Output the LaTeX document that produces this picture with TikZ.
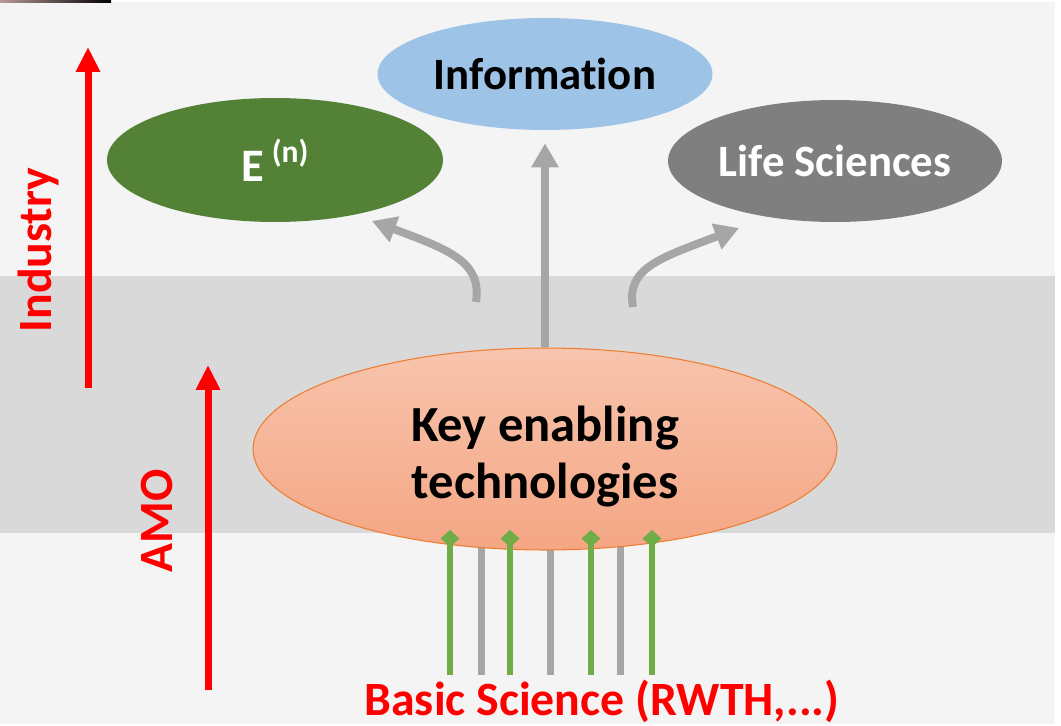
\documentclass[tikz,border=0pt]{standalone}
\usepackage{fontspec}
\setmainfont{Carlito}[Ligatures=CommonOff]
\usetikzlibrary{arrows.meta,shapes.geometric}
\definecolor{bg}{HTML}{F4F4F4}
\definecolor{band}{HTML}{D9D9D9}
\definecolor{engreen}{HTML}{538135}
\definecolor{infoblue}{HTML}{9DC3E6}
\definecolor{lifegray}{HTML}{7F7F7F}
\definecolor{arrgray}{HTML}{A6A6A6}
\definecolor{lgreen}{HTML}{70AD47}
\definecolor{keytop}{HTML}{F8C4AD}
\definecolor{keybot}{HTML}{F4A684}
\definecolor{keyborder}{HTML}{ED7D31}
\tikzset{
  bigtext/.style={font=\fontsize{25.5}{32}\selectfont\bfseries, align=center},
  keytext/.style={font=\fontsize{28.8}{32.5}\selectfont\bfseries, align=center},
  redtext/.style={font=\fontsize{27.2}{32}\selectfont\bfseries, text=red},
  blob/.style={ellipse, inner sep=0pt, bigtext},
  redarrow/.style={draw=red, line width=0.14cm, -{Triangle[width=0.46cm,length=0.5cm]}},
  grayarrow/.style={draw=arrgray, line width=0.16cm, -{Triangle[width=0.52cm,length=0.48cm]}},
  grayline/.style={draw=arrgray, line width=0.14cm},
  greenline/.style={draw=lgreen, line width=0.12cm, -{Diamond[width=0.38cm,length=0.34cm]}},
}
\begin{document}
\begin{tikzpicture}[x=0.02cm,y=-0.02cm]
\useasboundingbox (0,0) rectangle (1061,726);
\fill[white] (0,0) rectangle (1061,726);
\fill[bg] (0,2) rectangle (1055,724);
\fill[band] (0,276) rectangle (1055,533);
\shade[left color=black!70!red!40, right color=black] (0,0) rectangle (111,3);

% ellipses top
\node[blob, fill=engreen, text=white, minimum width=6.72cm, minimum height=2.48cm] (en) at (275,160) {{\fontsize{26.5}{32}\selectfont E}\,\raisebox{0.42em}{\fontsize{18}{20}\selectfont (n)}};
\node[blob, fill=infoblue, text=black, minimum width=6.70cm, minimum height=2.24cm] (info) at (545,74) {Information};
\node[blob, fill=lifegray, text=white, minimum width=6.68cm, minimum height=2.44cm] (life) at (835,161) {Life Sciences};

% gray bottom lines (under key ellipse)
\foreach \i/\x in {1/481,2/550,3/620} {
  \coordinate (gb\i) at (\x,675);
  \coordinate (gt\i) at (\x,540);
  \draw[grayline] (gb\i) -- (gt\i);
}

% key ellipse
\node[ellipse, inner sep=0pt, keytext, top color=keytop, bottom color=keybot, draw=keyborder, line width=0.6pt, minimum width=11.68cm, minimum height=4.04cm] (key) at (545,449) {\rule{0pt}{28.5pt}Key enabling\\technologies};

% green lines with diamonds
\foreach \i/\x in {1/450,2/510,3/591,4/652} {
  \coordinate (kb\i) at (\x,675);
  \coordinate (kt\i) at (\x,530);
  \draw[greenline] (kb\i) -- (kt\i);
}

% gray arrows up
\draw[grayarrow, shorten >=0.26cm] (key.north) -- (info.south);
\coordinate (lt) at (476,302);
\coordinate (lh) at (372,221);
\draw[grayarrow] (lt) .. controls (482,262) and (450,250) .. (lh);
\coordinate (rt) at (633,307);
\coordinate (rh) at (739,228);
\draw[grayarrow] (rt) .. controls (626,268) and (660,258) .. (rh);

% red arrows and labels
\coordinate (ib) at (88,388);
\coordinate (it) at (88,47);
\draw[redarrow] (ib) -- (it);
\node[redtext, rotate=90] (industry) at (38,250) {Industry};
\coordinate (ab) at (208,690);
\coordinate (at) at (208,365);
\draw[redarrow] (ab) -- (at);
\node[redtext, rotate=90] (amo) at (157,521) {AMO};

\node[redtext] (basic) at (602,701) {Basic Science (RWTH,...)};
\end{tikzpicture}
\end{document}
